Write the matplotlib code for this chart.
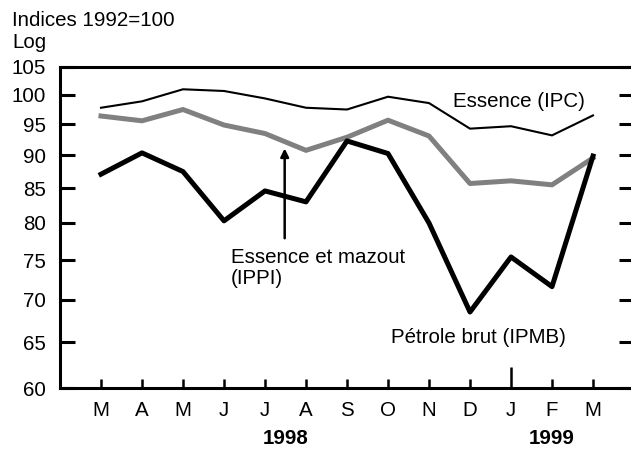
import matplotlib
matplotlib.use("Agg")
import matplotlib.pyplot as plt
import matplotlib.ticker as mticker

plt.rcParams['font.family'] = ['Liberation Sans', 'DejaVu Sans']

# monthly indices (1992=100), March 1998 to March 1999
months = ['M', 'A', 'M', 'J', 'J', 'A', 'S', 'O', 'N', 'D', 'J', 'F', 'M']
ipc = [97.8, 98.9, 101.0, 100.7, 99.4, 97.8, 97.5, 99.7, 98.6, 94.3, 94.7, 93.2, 96.5]
ippi = [96.4, 95.6, 97.5, 94.9, 93.5, 90.8, 92.9, 95.7, 93.1, 85.7, 86.1, 85.5, 89.6]
ipmb = [87.1, 90.4, 87.5, 80.3, 84.6, 83.0, 92.3, 90.3, 80.0, 68.5, 75.4, 71.6, 89.9]
yticks = [60, 65, 70, 75, 80, 85, 90, 95, 100, 105]
years = ['1998', '1999']

FS = 14.8

fig = plt.figure(figsize=(6.31, 4.49), dpi=100)
ax = fig.add_axes([60 / 631, 61 / 449, 574 / 631, 321 / 449])

x = list(range(len(months)))
ax.plot(x, ipc, color='black', lw=1.5, solid_joinstyle='miter')
ax.plot(x, ippi, color='#808080', lw=3.6)
ax.plot(x, ipmb, color='black', lw=3.6)

ax.set_yscale('log')
ax.set_ylim(60, 105)
ax.set_xlim(-1, 13)
ax.yaxis.set_major_locator(mticker.FixedLocator(yticks))
ax.yaxis.set_minor_locator(mticker.NullLocator())
ax.set_yticklabels([str(v) for v in yticks])

# all months but January get short ticks, January gets the tall one
major = [i for i in x if i != 10]
ax.set_xticks(major)
ax.set_xticklabels([months[i] for i in major])
ax.set_xticks([10], minor=True)
ax.set_xticklabels([months[10]], minor=True)

for s in ax.spines.values():
    s.set_linewidth(2.2)

ax.tick_params(axis='y', which='major', direction='in', length=11, width=2.2,
               right=True, labelsize=FS, pad=10)
ax.tick_params(axis='x', which='major', direction='in', length=6.5, width=1.8,
               labelsize=FS, pad=9)
ax.tick_params(axis='x', which='minor', direction='in', length=15, width=1.8,
               labelsize=FS, pad=9)

tr = ax.get_xaxis_transform()
ax.text(4.5, -0.156, years[0], transform=tr, ha='center', va='center',
        fontsize=FS, fontweight='bold')
ax.text(11, -0.156, years[1], transform=tr, ha='center', va='center',
        fontsize=FS, fontweight='bold')

ax.text(8.58, 98.8, 'Essence (IPC)', ha='left', va='center', fontsize=FS)
ax.text(3.17, 74.0, 'Essence et mazout\n(IPPI)', ha='left', va='center',
        fontsize=FS, linespacing=1.15)
ax.annotate('', xy=(4.48, 91.1), xytext=(4.48, 77.9),
            arrowprops=dict(arrowstyle='-|>', color='black', lw=1.8,
                            mutation_scale=12, shrinkA=0, shrinkB=0))
ax.text(7.07, 65.5, 'Pétrole brut (IPMB)', ha='left', va='center', fontsize=FS)

fig.text(12 / 631, 1 - 21 / 449, 'Indices 1992=100', ha='left', va='center', fontsize=FS)
fig.text(12 / 631, 1 - 43 / 449, 'Log', ha='left', va='center', fontsize=FS)

fig.savefig('out.png', dpi=100)
